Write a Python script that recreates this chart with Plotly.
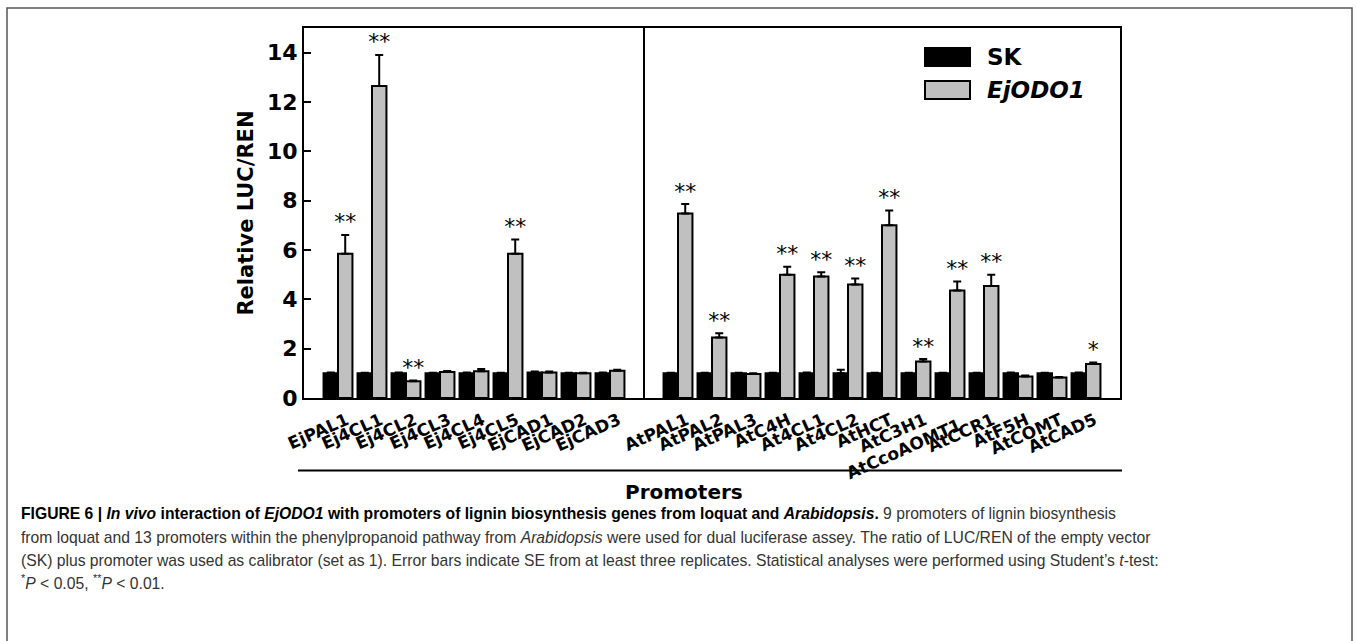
import plotly.graph_objects as go

# ---------------- data ----------------
loquat_genes = ["EjPAL1", "Ej4CL1", "Ej4CL2", "Ej4CL3", "Ej4CL4", "Ej4CL5", "EjCAD1", "EjCAD2", "EjCAD3"]
arab_genes = ["AtPAL1", "AtPAL2", "AtPAL3", "AtC4H", "At4CL1", "At4CL2", "AtHCT", "AtC3H1",
              "AtCcoAOMT1", "AtCCR1", "AtF5H", "AtCOMT", "AtCAD5"]

sk_loquat = [1.0, 1.0, 1.0, 1.0, 1.0, 1.0, 1.03, 1.0, 1.0]
sk_loquat_err = [0.03, 0.02, 0.03, 0.02, 0.03, 0.02, 0.04, 0.02, 0.03]
odo_loquat = [5.85, 12.65, 0.68, 1.05, 1.08, 5.85, 1.03, 1.0, 1.1]
odo_loquat_err = [0.76, 1.26, 0.03, 0.04, 0.10, 0.58, 0.04, 0.02, 0.05]
sig_loquat = ["**", "**", "**", "", "", "**", "", "", ""]

sk_arab = [1.0, 1.0, 1.0, 1.0, 1.0, 1.0, 1.0, 1.0, 1.0, 1.0, 1.0, 1.0, 1.0]
sk_arab_err = [0.02, 0.02, 0.02, 0.02, 0.03, 0.15, 0.02, 0.02, 0.02, 0.02, 0.03, 0.02, 0.03]
odo_arab = [7.48, 2.45, 0.97, 5.0, 4.93, 4.6, 7.0, 1.48, 4.36, 4.54, 0.87, 0.83, 1.38]
odo_arab_err = [0.38, 0.18, 0.03, 0.32, 0.17, 0.24, 0.60, 0.10, 0.36, 0.46, 0.04, 0.02, 0.06]
sig_arab = ["**", "**", "", "**", "**", "**", "**", "**", "**", "**", "", "", "*"]

y_ticks = [0, 2, 4, 6, 8, 10, 12, 14]
series_names = ["SK", "EjODO1"]

# ---------------- layout helpers ----------------
W, H = 1357, 641
PL, PR, PT, PB = 304, 1120, 28, 398   # plot area in pixels
XMAX, YMAX = 24, 15
TICK_ANGLE = -24
TICK_SIZE = 17
LABEL_SHIFT = 0.25   # tick labels sit slightly right of group centres in the original

def px_x(p):
    return (p - PL) / (PR - PL)

def px_y(p):
    return (PB - p) / (PB - PT)

left_pos = list(range(1, len(loquat_genes) + 1))
sep_pos = len(loquat_genes) + 1
right_pos = list(range(sep_pos + 1, sep_pos + 1 + len(arab_genes)))

genes = loquat_genes + arab_genes
xpos = left_pos + right_pos
sk = sk_loquat + sk_arab
sk_err = sk_loquat_err + sk_arab_err
odo = odo_loquat + odo_arab
odo_err = odo_loquat_err + odo_arab_err
sig = sig_loquat + sig_arab

BARGAP = 0.15
half_bar = (1 - BARGAP) / 4

fig = go.Figure()
fig.add_trace(go.Bar(
    x=xpos, y=sk, name=series_names[0],
    marker=dict(color="#000000", line=dict(color="#000000", width=2)),
    error_y=dict(type="data", symmetric=False, array=sk_err, arrayminus=[0] * len(sk_err),
                 color="#000000", thickness=2, width=4),
))
fig.add_trace(go.Bar(
    x=xpos, y=odo, name=series_names[1],
    marker=dict(color="#c0c0c0", line=dict(color="#000000", width=2)),
    error_y=dict(type="data", symmetric=False, array=odo_err, arrayminus=[0] * len(odo_err),
                 color="#000000", thickness=2, width=4),
))

# significance stars above EjODO1 bars
star_x = [p + half_bar for p, s in zip(xpos, sig) if s]
star_y = [v + e for v, e, s in zip(odo, odo_err, sig) if s]
star_t = [s for s in sig if s]
fig.add_trace(go.Scatter(
    x=star_x, y=star_y, text=star_t, mode="text", textposition="top center",
    textfont=dict(family="DejaVu Sans", size=22, color="#000000"),
    showlegend=False, hoverinfo="skip", cliponaxis=False,
))

# tick labels: AtCcoAOMT1 is drawn lower (staggered) in the original
special = "AtCcoAOMT1"
ticktext = ["" if g == special else g for g in genes]
tickvals = [p + LABEL_SHIFT for p in xpos]

fig.update_layout(
    width=W, height=H,
    margin=dict(l=PL, r=W - PR, t=PT, b=H - PB, pad=0),
    paper_bgcolor="white", plot_bgcolor="white",
    barmode="group", bargap=BARGAP, bargroupgap=0,
    showlegend=False,
    font=dict(family="DejaVu Sans", color="#000000"),
    xaxis=dict(
        range=[0, XMAX], tickmode="array", tickvals=tickvals, ticktext=ticktext,
        tickangle=TICK_ANGLE,
        tickfont=dict(family="DejaVu Sans", size=TICK_SIZE, weight="bold", color="#000"),
        ticklabelstandoff=4,
        ticks="", showline=True, linecolor="#000", linewidth=2, mirror=True,
        showgrid=False, zeroline=False,
    ),
    yaxis=dict(
        range=[0, YMAX], tickmode="array", tickvals=y_ticks,
        ticks="inside", ticklen=7, tickwidth=2, tickcolor="#000",
        tickfont=dict(family="DejaVu Sans", size=22, weight="bold", color="#000"),
        showline=True, linecolor="#000", linewidth=2, mirror=True,
        showgrid=False, zeroline=False,
        title=dict(text="Relative LUC/REN", standoff=8,
                   font=dict(family="DejaVu Sans", size=21, weight="bold", color="#000")),
    ),
)

shapes = []
# separator between loquat and Arabidopsis promoters
shapes.append(dict(type="line", xref="x", yref="paper", x0=sep_pos, x1=sep_pos, y0=0, y1=1,
                   line=dict(color="#000", width=2)))
# line above "Promoters"
shapes.append(dict(type="line", xref="paper", yref="paper", x0=px_x(298), x1=px_x(1122),
                   y0=px_y(470.5), y1=px_y(470.5), line=dict(color="#000", width=2)))
# legend boxes
shapes.append(dict(type="rect", xref="paper", yref="paper", x0=px_x(925), x1=px_x(970),
                   y0=px_y(66), y1=px_y(48), fillcolor="#000", line=dict(color="#000", width=2)))
shapes.append(dict(type="rect", xref="paper", yref="paper", x0=px_x(925), x1=px_x(970),
                   y0=px_y(99), y1=px_y(81), fillcolor="#c0c0c0", line=dict(color="#000", width=2)))
# outer figure frame
shapes.append(dict(type="rect", xref="paper", yref="paper", x0=px_x(7), x1=px_x(1352),
                   y0=px_y(650), y1=px_y(8), line=dict(color="#555", width=1.5)))
fig.update_layout(shapes=shapes)

ann = []
ann.append(dict(xref="paper", yref="paper", x=px_x(985), y=px_y(57), xanchor="left", yanchor="middle",
                text="<b>" + series_names[0] + "</b>", showarrow=False,
                font=dict(family="DejaVu Sans", size=23, color="#000")))
ann.append(dict(xref="paper", yref="paper", x=px_x(985), y=px_y(90), xanchor="left", yanchor="middle",
                text="<b><i>" + series_names[1] + "</i></b>", showarrow=False,
                font=dict(family="DejaVu Sans", size=23, color="#000")))
# staggered tick label
sp = xpos[genes.index(special)]
ann.append(dict(xref="x", yref="paper", x=sp + (904 - 950.5) / 34, y=px_y(449), xanchor="center",
                yanchor="middle", text="<b>" + special + "</b>", textangle=TICK_ANGLE, showarrow=False,
                font=dict(family="DejaVu Sans", size=TICK_SIZE, color="#000")))
ann.append(dict(xref="paper", yref="paper", x=px_x(683.5), y=px_y(492), xanchor="center",
                yanchor="middle", text="<b>Promoters</b>", showarrow=False,
                font=dict(family="DejaVu Sans", size=20, color="#000")))

cap_font = dict(family="Liberation Sans, Arial", size=15.7, color="#333")
caption = [
    "<b style='color:#000'>FIGURE 6 | <i>In vivo</i> interaction of <i>EjODO1</i> with promoters of lignin "
    "biosynthesis genes from loquat and <i>Arabidopsis</i>.</b> 9 promoters of lignin biosynthesis",
    "from loquat and 13 promoters within the phenylpropanoid pathway from <i>Arabidopsis</i> were used "
    "for dual luciferase assey. The ratio of LUC/REN of the empty vector",
    "(SK) plus promoter was used as calibrator (set as 1). Error bars indicate SE from at least three "
    "replicates. Statistical analyses were performed using Student’s <i>t</i>-test:",
    "<sup>*</sup><i>P</i> &lt; 0.05, <sup>**</sup><i>P</i> &lt; 0.01.",
]
cap_y = [513, 537, 560, 582]
for t, yy in zip(caption, cap_y):
    ann.append(dict(xref="paper", yref="paper", x=px_x(19), y=px_y(yy), xanchor="left", yanchor="middle",
                    text=t, showarrow=False, align="left", font=cap_font))
fig.update_layout(annotations=ann)

fig.write_html("out.html", config={"displayModeBar": False},
               post_script="document.body.style.margin='0';")
